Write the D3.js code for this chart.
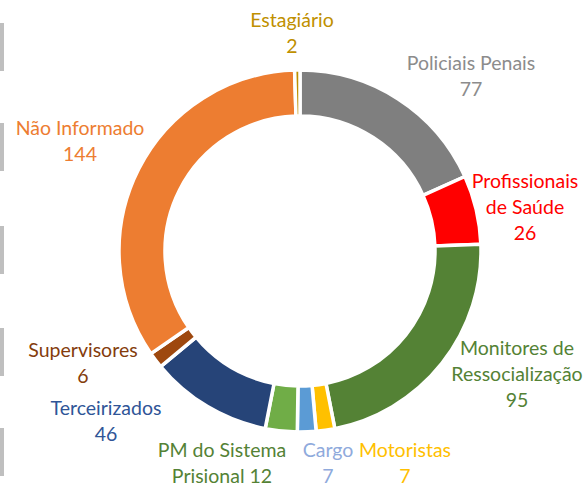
<!DOCTYPE html>
<html>
<head>
<meta charset="utf-8">
<script src="https://cdn.jsdelivr.net/npm/d3@7"></script>
<style>
  body { margin: 0; background: #fff; }
  svg { display: block; }
  text { font-family: Lato, "Open Sans", sans-serif; font-size: 19.5px; }
</style>
</head>
<body>
<svg id="chart" width="585" height="486"></svg>
<script>
// data (clockwise from 12 o'clock)
let categories = ['Policiais Penais', 'Profissionais de Saúde', 'Monitores de Ressocialização', 'Motoristas', 'Cargo',
  'PM do Sistema Prisional', 'Terceirizados', 'Supervisores', 'Não Informado', 'Estagiário']
let values = [77, 26, 95, 7, 7, 12, 46, 6, 144, 2]

// label text lines (as shown on the chart)
let labelLines = [
  ['Policiais Penais', '77'],
  ['Profissionais', 'de Saúde', '26'],
  ['Monitores de', 'Ressocialização', '95'],
  ['Motoristas', '7'],
  ['Cargo', '7'],
  ['PM do Sistema', 'Prisional 12'],
  ['Terceirizados', '46'],
  ['Supervisores', '6'],
  ['Não Informado', '144'],
  ['Estagiário', '2']
]

let sliceColors = ['#7f7f7f', '#ff0000', '#548235', '#ffc000', '#5b9bd5', '#70ad47', '#264478', '#9e480e', '#ed7d31', '#bf9000']
let labelColors = ['#8c8c8c', '#ff0000', '#548235', '#ffc000', '#8faadc', '#548235', '#2f5597', '#843c0c', '#ed7d31', '#bf9000']

// hand placed label anchors (centre x, baseline of first line)
let labelPos = [[471, 70], [525, 188], [517, 355], [405, 457], [328, 457], [222, 457], [106, 415], [83, 357], [80, 135], [292, 27]]

let cx = 300, cy = 251, outerR = 181, innerR = 135
let lineH = 25.8

let svg = d3.select('#chart')

// small grey marks along the left edge
let edgeMarks = [23, 123, 226, 328, 428]
svg.selectAll('.edge')
  .data(edgeMarks)
  .enter()
  .append('rect')
  .attr('class', 'edge')
  .attr('x', 0)
  .attr('y', d => d)
  .attr('width', 4)
  .attr('height', 48)
  .attr('fill', '#bfbfbf')

let pie = d3.pie().sort(null).value(d => d)
let arc = d3.arc().innerRadius(innerR).outerRadius(outerR)

let g = svg.append('g')
  .attr('transform', 'translate(' + cx + ',' + cy + ')')

g.selectAll('path')
  .data(pie(values))
  .enter()
  .append('path')
  .attr('d', arc)
  .attr('fill', (d, i) => sliceColors[i])
  .attr('stroke', '#fff')
  .attr('stroke-width', 3.5)

let labels = svg.selectAll('.label')
  .data(labelLines)
  .enter()
  .append('text')
  .attr('class', 'label')
  .attr('text-anchor', 'middle')
  .attr('fill', (d, i) => labelColors[i])

labels.each(function (lines, i) {
  let t = d3.select(this)
  lines.forEach((line, j) => {
    t.append('tspan')
      .attr('x', labelPos[i][0])
      .attr('y', labelPos[i][1] + j * lineH)
      .text(line)
  })
})
</script>
</body>
</html>
